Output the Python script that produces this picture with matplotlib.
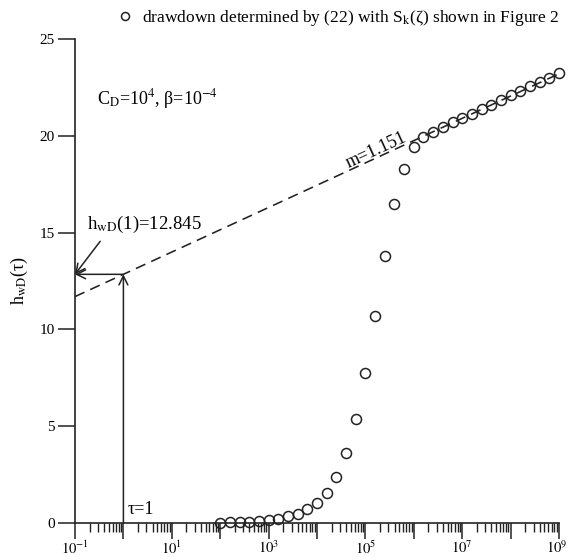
import numpy as np
import matplotlib
matplotlib.use("Agg")
import matplotlib.pyplot as plt
import matplotlib.transforms as mtransforms
from matplotlib.ticker import FixedLocator, LogLocator, NullFormatter

plt.rcParams['font.family'] = ['Liberation Serif', 'DejaVu Serif']
plt.rcParams['mathtext.fontset'] = 'stix'

# ---- data ----
log_tau = [2.0, 2.2, 2.4, 2.6, 2.8, 3.0, 3.2, 3.4, 3.6, 3.8,
           4.0, 4.2, 4.4, 4.6, 4.8, 5.0, 5.2, 5.4, 5.6, 5.8,
           6.0, 6.2, 6.4, 6.6, 6.8, 7.0, 7.2, 7.4, 7.6, 7.8,
           8.0, 8.2, 8.4, 8.6, 8.8, 9.0]
h_wD = [0.02, 0.03, 0.04, 0.06, 0.09, 0.14, 0.22, 0.34, 0.48, 0.70,
        1.02, 1.56, 2.38, 3.62, 5.38, 7.75, 10.7, 13.8, 16.5, 18.3,
        19.4, 19.95, 20.2, 20.45, 20.7, 20.9, 21.15, 21.4, 21.6, 21.85,
        22.1, 22.3, 22.55, 22.8, 23.0, 23.25]

slope_m = 1.151          # per log10 cycle
h_at_1 = 12.845          # h_wD(1)
line_tau = [1e-1, 1e9]

x_major = [1e-1, 1e0, 1e1, 1e2, 1e3, 1e4, 1e5, 1e6, 1e7, 1e8, 1e9]
x_labels = [r'$10^{-1}$', '', r'$10^{1}$', '', r'$10^{3}$', '', r'$10^{5}$',
            '', r'$10^{7}$', '', r'$10^{9}$']
y_ticks = [0, 5, 10, 15, 20, 25]

legend_label = 'drawdown determined by (22) with S$_\\mathrm{k}$(ζ) shown in Figure 2'

# ---- figure ----
W, H = 568, 557
fig = plt.figure(figsize=(W / 100, H / 100), dpi=100)
ax = fig.add_axes([75 / W, 1 - 523 / H, (559 - 75) / W, (523 - 39) / H])

col = '#222222'
tau = 10 ** np.array(log_tau)
ax.plot(tau, h_wD, linestyle='none', marker='o', markersize=7.2,
        markerfacecolor='none', markeredgecolor=col, markeredgewidth=1.1,
        clip_on=False, label=legend_label, zorder=3)

lt = np.array(line_tau)
ax.plot(lt, h_at_1 + slope_m * np.log10(lt), color=col, lw=1.15,
        dashes=(6.5, 4), zorder=2)

ax.set_xscale('log')
ax.set_xlim(1e-1, 1e9)
ax.set_ylim(0, 25)

ax.xaxis.set_major_locator(FixedLocator(x_major))
ax.set_xticklabels(x_labels)
ax.xaxis.set_minor_locator(LogLocator(base=10, subs=np.arange(2, 10), numticks=100))
ax.xaxis.set_minor_formatter(NullFormatter())
ax.set_yticks(y_ticks)

for s in ['top', 'right']:
    ax.spines[s].set_visible(False)
for s in ['left', 'bottom']:
    ax.spines[s].set_linewidth(1.2)
    ax.spines[s].set_color(col)

ax.tick_params(axis='y', which='major', direction='out', length=12.5,
               width=1.1, color=col, labelsize=11, labelcolor='black', pad=2)
ax.tick_params(axis='x', which='major', direction='out', length=11.5,
               width=1.1, color=col, labelsize=10.5, labelcolor='black', pad=0.5)
ax.tick_params(axis='x', which='minor', direction='out', length=6.5,
               width=1.0, color=col)

# keep the last x label inside the figure
last = ax.get_xticklabels()[-1]
last.set_horizontalalignment('right')
last.set_transform(last.get_transform() +
                   mtransforms.ScaledTranslation(8 / 100, 0, fig.dpi_scale_trans))

ax.set_ylabel(r'h$_\mathrm{wD}$(τ)', fontsize=13, labelpad=7)

# arrows at tau = 1
ap = dict(arrowstyle='->', color=col, lw=1.1, mutation_scale=16,
          shrinkA=0, shrinkB=0)
ax.annotate('', xy=(1e-1, h_at_1), xytext=(1.0, h_at_1), arrowprops=ap)
ax.annotate('', xy=(1.0, h_at_1), xytext=(1.0, 0), arrowprops=ap)
ax.annotate('', xy=(1e-1, h_at_1), xytext=(10 ** -0.48, 14.55), arrowprops=ap)

ax.text(10 ** -0.76, 15.4, r'h$_\mathrm{wD}$(1)=12.845', fontsize=13.5,
        va='center', ha='left')
ax.text(10 ** 0.08, 0.25, 'τ=1', fontsize=13, va='bottom', ha='left')
ax.text(10 ** -0.55, 21.9, r'C$_\mathrm{D}$=10$^{4}$, β=10$^{-4}$',
        fontsize=13, va='center', ha='left')

# m label along line
p1 = ax.transData.transform((1e3, h_at_1 + slope_m * 3))
p2 = ax.transData.transform((1e7, h_at_1 + slope_m * 7))
ang = np.degrees(np.arctan2(p2[1] - p1[1], p2[0] - p1[0]))
xm = 10 ** 5.29
ax.annotate('m=1.151', xy=(xm, h_at_1 + slope_m * np.log10(xm)),
            xytext=(-1, 1.5), textcoords='offset points', rotation=ang,
            rotation_mode='anchor', ha='center', va='baseline', fontsize=13)

leg = ax.legend(loc='center right', bbox_to_anchor=(1.0, 1 + 21 / 484),
                frameon=False, fontsize=12.5, handlelength=0.7,
                handletextpad=0.6, borderaxespad=0, borderpad=0,
                markerscale=0.8)

fig.savefig('out.png', dpi=100)
